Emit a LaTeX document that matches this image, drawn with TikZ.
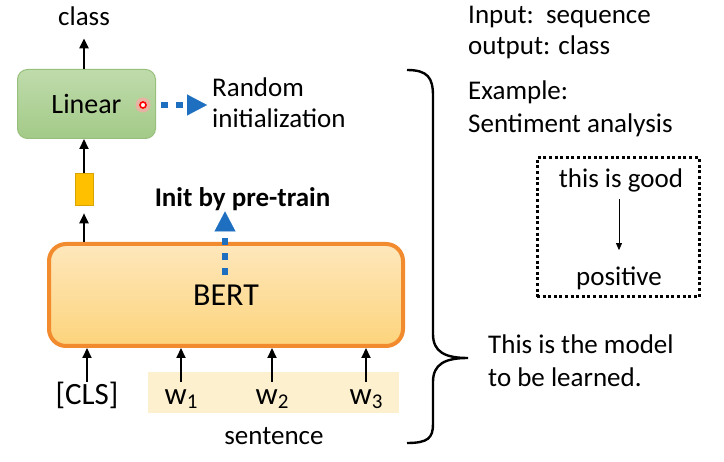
\documentclass[tikz,border=0pt]{standalone}
\usepackage{fontspec}
\setmainfont{Carlito}
\usetikzlibrary{arrows.meta,positioning}
\definecolor{initblue}{HTML}{1F6FC0}
\definecolor{linfill}{HTML}{BFDBAB}
\definecolor{linfilldk}{HTML}{A3CA88}
\definecolor{linedge}{HTML}{98C07C}
\definecolor{bertedge}{HTML}{F28A2E}
\definecolor{bertfill}{HTML}{FEE7BC}
\definecolor{bertfilldk}{HTML}{FDD47C}
\definecolor{featfill}{HTML}{FFC000}
\definecolor{bandfill}{HTML}{FDF0CE}
\newcommand{\wsub}[1]{w\raisebox{-4pt}{\fontsize{21}{21}\selectfont #1}}

\begin{document}
\begin{tikzpicture}[x=1pt, y=-1pt,
        txt/.style={inner sep=0pt, font=\fontsize{27}{31}\selectfont},
        word/.style={inner sep=0pt, text height=23pt, text depth=5pt,
            font=\fontsize{31}{34}\selectfont},
        arr/.style={-{Triangle[length=10pt,width=9pt]}, line width=2.1pt},
        thinarr/.style={-{Triangle[length=7pt,width=6pt]}, line width=0.7pt},
        initarr/.style={draw=initblue, line width=6pt, dash pattern=on 7pt off 8pt,
            -{Triangle[length=20pt,width=21pt,line width=0.1pt]}},
        linbox/.style={draw=linedge, line width=1pt, rounded corners=10pt,
            top color=linfill, bottom color=linfilldk, minimum width=138pt,
            minimum height=69pt, font=\fontsize{28}{30}\selectfont},
        bertbox/.style={draw=bertedge, line width=4pt, rounded corners=17pt,
            top color=bertfill, bottom color=bertfilldk, minimum width=354pt,
            minimum height=102pt, font=\fontsize{32}{34}\selectfont},
        featbox/.style={draw=featfill!85!black, line width=0.6pt, fill=featfill,
            minimum width=18pt, minimum height=32pt, inner sep=0pt},
        band/.style={fill=bandfill, minimum width=251pt, minimum height=41pt,
            inner sep=0pt},
        exbox/.style={draw, line width=3pt, dash pattern=on 3pt off 2.6pt,
            minimum width=162pt, minimum height=139pt},
        brace/.style={draw, line width=2.4pt},
    ]
    \useasboundingbox (0,0) rectangle (724,462);

    % model
    \node[linbox] (lin) at (86.5,104) {Linear};
    \node[txt, anchor=base] (clsout) at (84,26) {class};
    \node[featbox] (feat) at (84,189) {};
    \node[bertbox] (bert) at (226,295) {BERT};
    \node[txt, font=\fontsize{27}{30}\selectfont\bfseries, anchor=base] (init) at (242.5,207) {Init by pre-train};
    \node[txt, anchor=base west, align=left] (rand) at (212,128) {Random\\initialization};

    \draw[arr] (lin.north -| feat.north) -- (clsout.south) [shorten >=12pt];
    \draw[arr] (feat.north) -- (feat.north |- lin.south);
    \draw[arr, shorten >=8pt] (feat.north |- bert.north) -- (feat.south);

    % red dot
    \fill[red!35, opacity=0.7] (143,105) circle (7.5);
    \node[circle, draw=red, fill=white, line width=1.6pt, minimum size=6pt,
        inner sep=0pt] (rdot) at (143,105) {};

    % random / pre-train arrows
    \coordinate (randtip) at (207,105);
    \coordinate (initfoot) at (225,275);
    \draw[initarr] ([xshift=14pt]rdot.east) -- (randtip);
    \draw[initarr] (initfoot) -- (initfoot |- init.south);

    % inputs
    \node[band] (sent) at (273.5,392.5) {};
    \node[word, anchor=base] (clstok) at (87,405) {[CLS]};
    \node[word, anchor=base] (w1) at (181,405) {\wsub{1}};
    \node[word, anchor=base] (w2) at (272,405) {\wsub{2}};
    \node[word, anchor=base] (w3) at (366,405) {\wsub{3}};
    \node[txt, anchor=base] (sentlbl) at (274,445) {sentence};
    \foreach \t in {clstok,w1,w2,w3}
        \draw[arr] (\t.north) -- (\t.north |- bert.south);

    % brace
    \coordinate (bracetip) at (468,358);
    \draw[brace] (407,70) .. controls (428,70) and (433,78) .. (433,96)
        -- (433,334) .. controls (433,352) and (445,358) .. (bracetip)
        .. controls (445,358) and (433,364) .. (433,382)
        -- (433,424) .. controls (433,438) and (428,443) .. (407,443);
    \node[txt, font=\fontsize{27}{33}\selectfont, anchor=base west, align=left] (model) at (488,387) {This is the model\\to be learned.};

    % task
    \node[txt, font=\fontsize{27}{31}\selectfont, anchor=base west, align=left] (task) at (468,55) {Input:\ \ sequence\\output: class};
    \node[txt, font=\fontsize{27}{33}\selectfont, anchor=base west, align=left] (example) at (468,133) {Example:\\Sentiment analysis};
    \node[exbox] (exframe) at (618,227.5) {};
    \node[txt, anchor=base] (good) at (621,188) {this is good};
    \node[txt, anchor=base] (pos) at (619,286) {positive};
    \draw[thinarr, shorten <=6pt, shorten >=17pt] (good.south -| pos) -- (pos.north);
\end{tikzpicture}
\end{document}
